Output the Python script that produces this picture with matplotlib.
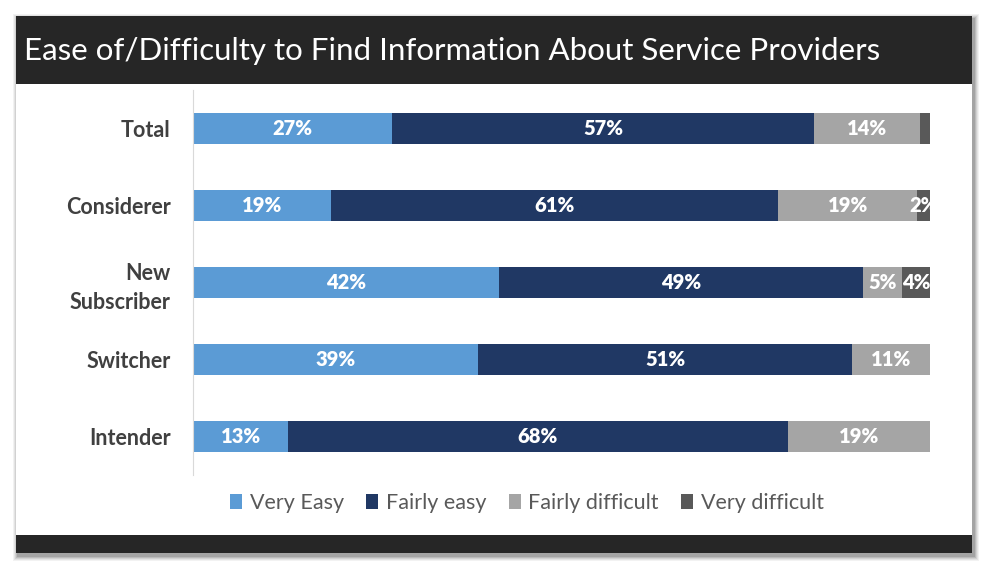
import matplotlib
matplotlib.use("Agg")
import matplotlib.pyplot as plt
from matplotlib.patches import Rectangle
import numpy as np

categories = ["Total", "Considerer", "New\nSubscriber", "Switcher", "Intender"]
series_names = ["Very Easy", "Fairly easy", "Fairly difficult", "Very difficult"]
very_easy = [27.0, 18.7, 41.5, 38.7, 12.9]
fairly_easy = [57.3, 60.7, 49.4, 50.7, 67.8]
fairly_difficult = [14.4, 18.9, 5.3, 10.6, 19.3]
very_difficult = [1.3, 1.7, 3.8, 0.0, 0.0]
colors = ["#5B9BD5", "#203864", "#A5A5A5", "#595959"]
title = "Ease of/Difficulty to Find Information About Service Providers"

W, H = 988, 571
fig = plt.figure(figsize=(W / 100, H / 100), dpi=100)
fig.patch.set_facecolor("white")

def px(x0, y0, x1, y1):
    return [x0 / W, 1 - y1 / H, (x1 - x0) / W, (y1 - y0) / H]

bg = fig.add_axes([0, 0, 1, 1])
bg.set_xlim(0, W)
bg.set_ylim(H, 0)
bg.axis("off")
for i, a in enumerate([0.05, 0.06, 0.08, 0.1, 0.12]):
    d = 5 - i
    bg.add_patch(Rectangle((16 - d + 2, 16 - d + 3), 956 + 2 * d, 537 + 2 * d,
                           facecolor="#000000", alpha=a, edgecolor="none", zorder=0))
bg.add_patch(Rectangle((16, 16), 956, 537, facecolor="white", edgecolor="none", zorder=1))
bg.add_patch(Rectangle((16, 16), 956, 68, facecolor="#262626", edgecolor="none", zorder=2))
bg.add_patch(Rectangle((16, 535), 956, 18, facecolor="#262626", edgecolor="none", zorder=2))
bg.text(24, 51, title, color="white", fontsize=22.5, family="Lato", va="center", ha="left", zorder=3)

ax = fig.add_axes(px(193, 90, 930, 475))
ax.set_facecolor("none")
n = len(categories)
y = np.arange(n)
data = [very_easy, fairly_easy, fairly_difficult, very_difficult]
left = np.zeros(n)
for vals, col, name in zip(data, colors, series_names):
    vals = np.array(vals)
    ax.barh(y, vals, left=left, height=0.39, color=col, label=name, edgecolor="none")
    for yi, v, l in zip(y, vals, left):
        if v >= 1.5:
            ax.text(l + v / 2, yi, f"{round(v):d}%", ha="center", va="center",
                    color="white", fontsize=14.5, fontweight="heavy", family="Lato", clip_on=False)
    left = left + vals

ax.set_xlim(0, 100)
ax.set_ylim(n - 0.5, -0.5)
ax.set_yticks(y)
ax.set_yticklabels(categories, fontsize=15.5, fontweight="bold", color="#404040", family="Lato",
                   linespacing=1.45)
ax.tick_params(axis="y", length=0, pad=16)
ax.set_xticks([])
for s in ["top", "right", "bottom"]:
    ax.spines[s].set_visible(False)
ax.spines["left"].set_color("#D9D9D9")
ax.spines["left"].set_linewidth(0.8)

handles, labels = ax.get_legend_handles_labels()
leg = fig.legend(handles, labels, loc="center", bbox_to_anchor=(527 / W, 1 - 503 / H), ncol=4,
                 frameon=False, handlelength=0.55, handleheight=0.7, handletextpad=0.35,
                 columnspacing=1.05, prop={"family": "Lato", "size": 15.5})
for t in leg.get_texts():
    t.set_color("#595959")

fig.savefig("out.png", dpi=100)
